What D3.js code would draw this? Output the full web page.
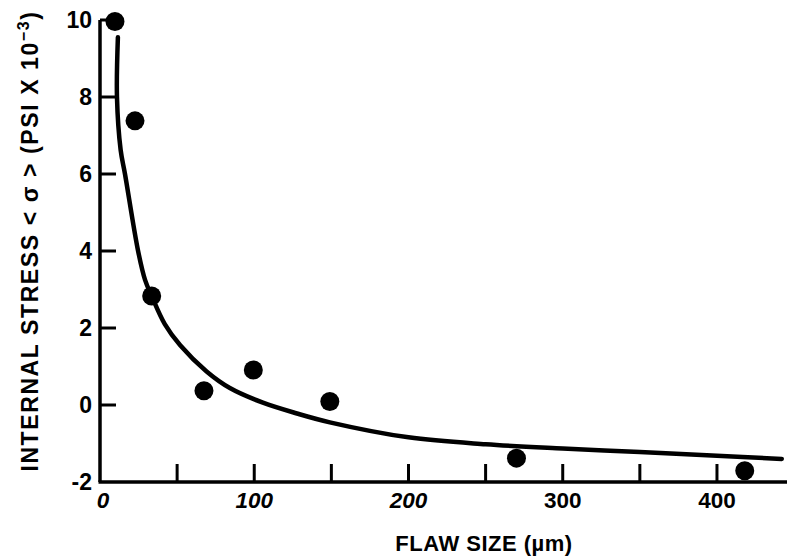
<!DOCTYPE html>
<html>
<head>
<meta charset="utf-8">
<script src="https://cdn.jsdelivr.net/npm/d3@7"></script>
<style>
  html, body { margin: 0; padding: 0; background: #fff; }
  svg { display: block; }
  text { font-family: "Liberation Sans", Arial, Helvetica, sans-serif; font-weight: bold; fill: #000; }
</style>
</head>
<body>
<svg id="chart" width="787" height="559"></svg>
<script>
// Measured points (flaw size µm, internal stress PSI x 10^-3)
const pointX = [9.7, 22.7, 33.5, 67.4, 99.4, 149, 270, 418];
const pointY = [9.96, 7.38, 2.83, 0.37, 0.91, 0.09, -1.38, -1.71];

// Fitted curve
const curveX = [11.6, 11.0, 13.4, 16.2, 24.7, 29.2, 33.5, 42, 52, 69.1, 84.2, 105.6, 127.7, 149, 200, 250, 300, 350, 400, 442];
const curveY = [9.55, 8.0, 6.62, 6.0, 4.0, 3.25, 2.83, 2.1, 1.55, 0.87, 0.44, 0.06, -0.22, -0.45, -0.84, -1.02, -1.13, -1.22, -1.32, -1.40];

const xTicks = [0, 50, 100, 150, 200, 250, 300, 350, 400];
const xTickLabels = ["0", "", "100", "", "200", "", "300", "", "400"];
const yTicks = [-2, 0, 2, 4, 6, 8, 10];
const yTickLabels = ["-2", "0", "2", "4", "6", "8", "10"];

const svg = d3.select("#chart");
const x = d3.scaleLinear().domain([0, 445.4]).range([100, 787]);
const y = d3.scaleLinear().domain([-2, 10]).range([482, 20]);

// Axes lines
svg.append("line").attr("x1", x(0)).attr("x2", x(0)).attr("y1", y(10)).attr("y2", y(-2))
  .attr("stroke", "#000").attr("stroke-width", 3.5);
svg.append("line").attr("x1", x(0) - 1.5).attr("x2", 787).attr("y1", y(-2)).attr("y2", y(-2))
  .attr("stroke", "#000").attr("stroke-width", 3.5);

// Y ticks (inward)
svg.selectAll(".ytick").data(yTicks.filter(d => d > -2)).enter().append("line")
  .attr("x1", x(0)).attr("x2", x(0) + 16)
  .attr("y1", d => y(d)).attr("y2", d => y(d))
  .attr("stroke", "#000").attr("stroke-width", 3);

// X ticks (inward)
svg.selectAll(".xtick").data(xTicks.filter(d => d > 0)).enter().append("line")
  .attr("x1", d => x(d)).attr("x2", d => x(d))
  .attr("y1", y(-2)).attr("y2", y(-2) - 18)
  .attr("stroke", "#000").attr("stroke-width", 3);

// Y tick labels
svg.selectAll(".ylab").data(yTicks).enter().append("text")
  .attr("x", 92).attr("y", d => y(d))
  .attr("dy", "0.36em")
  .attr("text-anchor", "end")
  .attr("font-size", 23)
  .text((d, i) => yTickLabels[i]);

// X tick labels
svg.selectAll(".xlab").data(xTicks).enter().append("text")
  .attr("x", d => x(d) + (d === 0 ? 3 : 0)).attr("y", 508)
  .attr("text-anchor", "middle")
  .attr("font-size", 22.5)
  .attr("font-style", d => d <= 200 ? "italic" : "normal")
  .text((d, i) => xTickLabels[i]);

// Curve
const line = d3.line().x((d, i) => x(curveX[i])).y((d, i) => y(curveY[i])).curve(d3.curveCatmullRom.alpha(0.5));
svg.append("path").datum(curveX).attr("d", line)
  .attr("fill", "none").attr("stroke", "#000").attr("stroke-width", 4.5)
  .attr("stroke-linecap", "round");

// Points
svg.selectAll(".pt").data(pointX).enter().append("circle")
  .attr("cx", d => x(d)).attr("cy", (d, i) => y(pointY[i]))
  .attr("r", 9.5).attr("fill", "#000");

// X axis title
svg.append("text").attr("x", 484).attr("y", 551)
  .attr("text-anchor", "middle").attr("font-size", 22)
  .attr("letter-spacing", 0.5)
  .text("FLAW SIZE (\u00B5m)");

// Y axis title
const yt = svg.append("text")
  .attr("transform", "translate(38,241) rotate(-90)")
  .attr("text-anchor", "middle").attr("font-size", 23)
  .attr("letter-spacing", 1.6);
yt.append("tspan").text("INTERNAL STRESS < \u03C3 > (PSI X 10");
yt.append("tspan").attr("dy", -9).attr("font-size", 16).text("\u22123");
yt.append("tspan").attr("dy", 9).text(")");
</script>
</body>
</html>
